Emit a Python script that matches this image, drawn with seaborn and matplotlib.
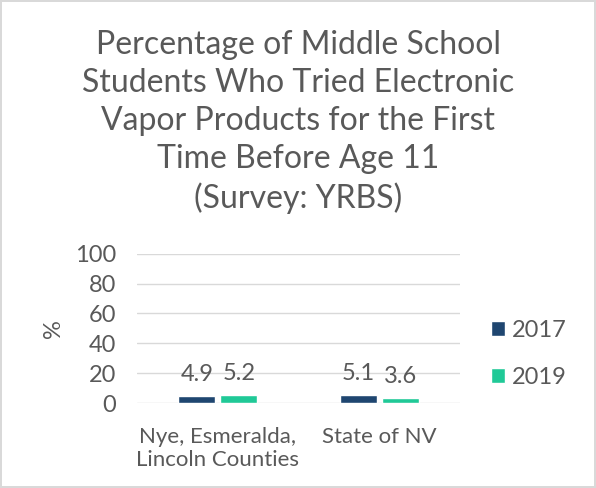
import pandas as pd
import matplotlib.pyplot as plt
import seaborn as sns

regions = ["Nye, Esmeralda,\nLincoln Counties", "State of NV"]
years = ["2017", "2019"]
values_2017 = [4.9, 5.1]
values_2019 = [5.2, 3.6]

colors = ["#1F4670", "#20C997"]
text_color = "#595959"

df = pd.DataFrame({
    "region": regions * 2,
    "year": [years[0]] * 2 + [years[1]] * 2,
    "value": values_2017 + values_2019,
})

sns.set_style("white")
plt.rcParams["font.family"] = ["Lato", "DejaVu Sans"]

fig = plt.figure(figsize=(5.96, 4.88), dpi=100, edgecolor="#D9D9D9", linewidth=1.5)
ax = fig.add_axes([0.230, 0.174, 0.542, 0.306])

sns.barplot(data=df, x="region", y="value", hue="year", palette=colors,
            saturation=1, width=0.52, gap=0.12, ax=ax, legend=True)

for cont in ax.containers:
    for bar in cont:
        h = bar.get_height()
        ax.annotate(f"{h:.1f}", (bar.get_x() + bar.get_width() / 2, h),
                    xytext=(0, 8), textcoords="offset points",
                    ha="center", va="bottom", fontsize=17, color=text_color)

ax.set_ylim(0, 100)
ax.set_yticks(range(0, 101, 20))
ax.yaxis.grid(True, color="#D9D9D9", linewidth=1)
ax.set_axisbelow(True)
for s in ax.spines.values():
    s.set_visible(False)
ax.tick_params(axis="both", labelsize=17, colors=text_color, length=0)
ax.tick_params(axis="y", pad=15)
ax.tick_params(axis="x", pad=17, labelsize=16)
ax.set_xlabel("")
ax.set_ylabel("%", fontsize=17, color=text_color, labelpad=8)

ax.legend(loc="center left", bbox_to_anchor=(1.03, 0.33), frameon=False,
          fontsize=17, labelcolor=text_color, handlelength=0.6, handleheight=0.6,
          handletextpad=0.3, labelspacing=1.1)

fig.suptitle("Percentage of Middle School\nStudents Who Tried Electronic\nVapor Products for the First\nTime Before Age 11\n(Survey: YRBS)",
             x=0.5, y=0.938, fontsize=23, color=text_color, linespacing=1.33)

fig.savefig("out.png", dpi=100)
